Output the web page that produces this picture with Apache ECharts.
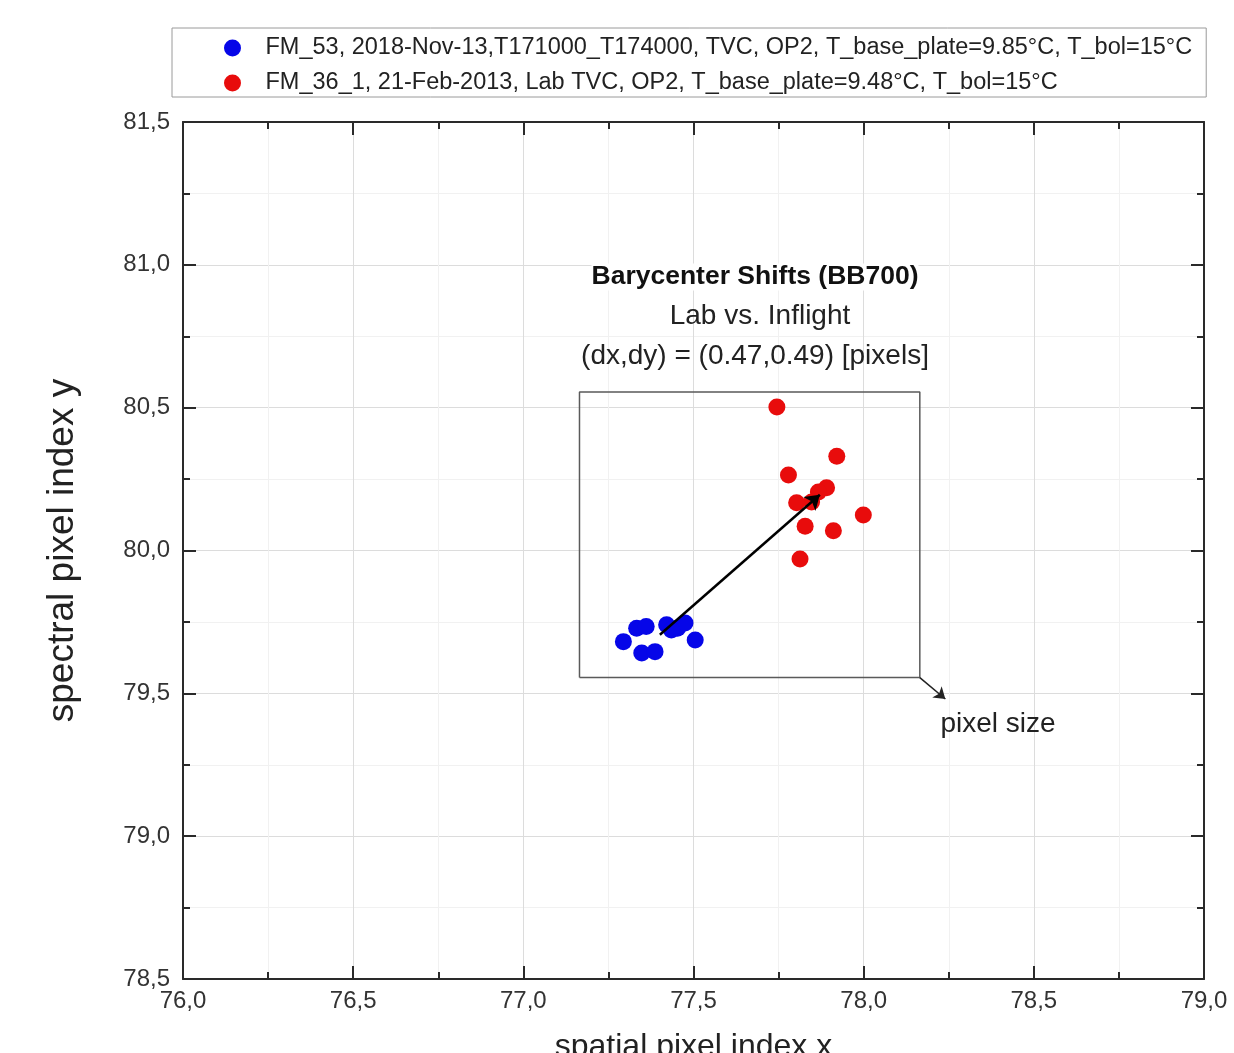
<!DOCTYPE html>
<html>
<head>
<meta charset="utf-8">
<title>Barycenter Shifts (BB700)</title>
<script src="https://cdn.jsdelivr.net/npm/echarts@6/dist/echarts.min.js"></script>
<style>
  html, body { margin: 0; padding: 0; background: #ffffff; }
  #chart { width: 1234px; height: 1053px; }
</style>
</head>
<body>
<div id="chart"></div>
<script>
// Barycenter positions of the BB700 spot, inflight (TVC) run
const inflightX = [77.294, 77.333, 77.361, 77.348, 77.387, 77.421, 77.453, 77.475, 77.505, 77.435];
const inflightY = [79.681, 79.728, 79.734, 79.641, 79.646, 79.740, 79.728, 79.746, 79.687, 79.722];

// Barycenter positions of the BB700 spot, lab TVC run
const labX = [77.745, 77.921, 77.779, 77.891, 77.867, 77.847, 77.803, 77.999, 77.828, 77.911, 77.813];
const labY = [80.502, 80.330, 80.264, 80.220, 80.205, 80.170, 80.167, 80.124, 80.085, 80.069, 79.970];

// Series names shown in the legend
const seriesNames = [
  'FM_53, 2018-Nov-13,T171000_T174000, TVC, OP2, T_base_plate=9.85°C, T_bol=15°C',
  'FM_36_1, 21-Feb-2013, Lab TVC, OP2, T_base_plate=9.48°C, T_bol=15°C'
];

// Mean shift (dx, dy) in pixels between the two runs
const shift = [0.47, 0.49];

// One detector pixel, drawn as a square around the spot
const pixelCenter = [77.665, 80.055];
const pixelSize = 1.0;
// Pointer from the pixel square corner towards its label
const pixelPointerEnd = [78.24, 79.48];

// Axis ranges and tick step
const xRange = [76.0, 79.0];
const yRange = [78.5, 81.5];
const tickStep = 0.5;

const annotationLines = [
  'Barycenter Shifts (BB700)',
  'Lab vs. Inflight',
  '(dx,dy) = (' + shift[0].toFixed(2) + ',' + shift[1].toFixed(2) + ') [pixels]'
];

const mean = a => a.reduce((s, v) => s + v, 0) / a.length;
const zip = (a, b) => a.map((v, i) => [v, b[i]]);

const inflightCenter = [mean(inflightX), mean(inflightY)];
const shiftEnd = [inflightCenter[0] + shift[0], inflightCenter[1] + shift[1]];

const h = pixelSize / 2;
const pixelBox = [
  [pixelCenter[0] - h, pixelCenter[1] - h],
  [pixelCenter[0] + h, pixelCenter[1] - h],
  [pixelCenter[0] + h, pixelCenter[1] + h],
  [pixelCenter[0] - h, pixelCenter[1] + h],
  [pixelCenter[0] - h, pixelCenter[1] - h]
];

const FONT = '"Liberation Sans", Arial, sans-serif';
const commaFmt = v => v.toFixed(1).replace('.', ',');

function axisBase(range, position, withLabels) {
  return {
    type: 'value',
    min: range[0],
    max: range[1],
    interval: tickStep,
    position: position,
    axisLine: { show: true, onZero: false, lineStyle: { color: '#2a2a2a', width: 2 } },
    axisTick: { show: true, inside: true, length: 13, lineStyle: { color: '#2a2a2a', width: 2 } },
    minorTick: { show: true, splitNumber: 2, length: 7, lineStyle: { color: '#2a2a2a', width: 2 } },
    splitLine: { show: withLabels, lineStyle: { color: '#dcdcdc', width: 1 } },
    minorSplitLine: { show: withLabels, lineStyle: { color: '#f1f1f1', width: 1 } },
    axisLabel: {
      show: withLabels,
      formatter: commaFmt,
      fontFamily: FONT,
      fontSize: 24,
      color: '#333'
    }
  };
}

const chart = echarts.init(document.getElementById('chart'), null, { renderer: 'canvas' });

const xBottom = axisBase(xRange, 'bottom', true);
xBottom.name = 'spatial pixel index x';
xBottom.nameLocation = 'middle';
xBottom.nameGap = 52;
xBottom.nameTextStyle = { fontFamily: FONT, fontSize: 32, color: '#222' };
xBottom.axisLabel.margin = 10;

const yLeft = axisBase(yRange, 'left', true);
yLeft.name = 'spectral pixel index y';
yLeft.nameLocation = 'middle';
yLeft.nameGap = 102;
yLeft.nameTextStyle = { fontFamily: FONT, fontSize: 37, color: '#222' };
yLeft.axisLabel.margin = 13;

const textZ = 100;

chart.setOption({
  animation: false,
  backgroundColor: '#ffffff',
  grid: { left: 183, right: 30, top: 122, bottom: 74, containLabel: false, outerBoundsMode: 'none' },
  legend: {
    orient: 'vertical',
    left: 172,
    top: 28,
    padding: [8, 14, 2, 52],
    itemGap: 11,
    itemWidth: 56,
    itemHeight: 17,
    icon: 'circle',
    borderColor: '#9a9a9a',
    borderWidth: 1,
    backgroundColor: '#ffffff',
    data: seriesNames,
    textStyle: { fontFamily: FONT, fontSize: 23.5, color: '#222' }
  },
  xAxis: [xBottom, axisBase(xRange, 'top', false)],
  yAxis: [yLeft, axisBase(yRange, 'right', false)],
  series: [
    {
      name: 'pixel',
      type: 'line',
      data: pixelBox,
      symbol: 'none',
      silent: true,
      lineStyle: { color: '#5a5a5a', width: 1.5 },
      z: 1,
      markLine: {
        silent: true,
        symbol: ['none', 'arrow'],
        symbolSize: 11,
        label: { show: false },
        lineStyle: { color: '#222', width: 1.5, type: 'solid' },
        data: [[{ coord: pixelBox[1] }, { coord: pixelPointerEnd }]]
      }
    },
    {
      name: seriesNames[0],
      type: 'scatter',
      data: zip(inflightX, inflightY),
      symbol: 'circle',
      symbolSize: 17,
      itemStyle: { color: '#0606e8', opacity: 1 },
      z: 3
    },
    {
      name: seriesNames[1],
      type: 'scatter',
      data: zip(labX, labY),
      symbol: 'circle',
      symbolSize: 17,
      itemStyle: { color: '#e80c0c', opacity: 1 },
      z: 3
    },
    {
      name: 'shift',
      type: 'line',
      data: [],
      silent: true,
      z: 5,
      markLine: {
        silent: true,
        symbol: ['none', 'arrow'],
        symbolSize: 14,
        label: { show: false },
        lineStyle: { color: '#000', width: 2.5, type: 'solid' },
        data: [[{ coord: inflightCenter }, { coord: shiftEnd }]],
        z: 5
      }
    }
  ],
  graphic: [
    {
      type: 'text', x: 755, y: 277, z: textZ,
      style: {
        text: annotationLines[0], fontFamily: FONT, fontSize: 26.5, fontWeight: 'bold',
        fill: '#111', align: 'center', verticalAlign: 'middle',
        backgroundColor: '#ffffff'
      }
    },
    {
      type: 'text', x: 760, y: 316, z: textZ,
      style: {
        text: annotationLines[1], fontFamily: FONT, fontSize: 28,
        fill: '#222', align: 'center', verticalAlign: 'middle'
      }
    },
    {
      type: 'text', x: 755, y: 356, z: textZ,
      style: {
        text: annotationLines[2], fontFamily: FONT, fontSize: 28,
        fill: '#222', align: 'center', verticalAlign: 'middle'
      }
    },
    {
      type: 'text', x: 998, y: 724, z: textZ,
      style: {
        text: 'pixel size', fontFamily: FONT, fontSize: 28,
        fill: '#222', align: 'center', verticalAlign: 'middle'
      }
    }
  ]
});
</script>
</body>
</html>
